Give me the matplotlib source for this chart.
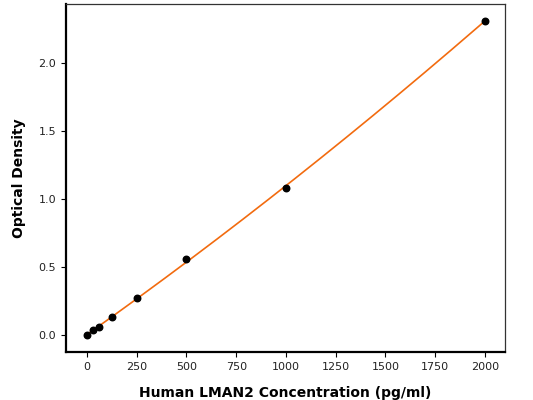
import numpy as np
import matplotlib
matplotlib.use("Agg")
import matplotlib.pyplot as plt

# standard curve data
concentration = [0, 31.25, 62.5, 125, 250, 500, 1000, 2000]
optical_density = [0.0, 0.035, 0.06, 0.132, 0.272, 0.558, 1.08, 2.312]

# quadratic fit for the curve
coef = np.polyfit(concentration, optical_density, 2)
xs = np.linspace(0, 2000, 200)
ys = np.polyval(coef, xs)

fig = plt.figure(figsize=(5.33, 4.0), dpi=100)
ax = fig.add_axes([0.124, 0.12, 0.823, 0.87])

ax.plot(xs, ys, color="#f26b0f", linewidth=1.2, zorder=1)
ax.scatter(concentration, optical_density, color="black", s=22, zorder=2)

ax.set_xlim(-105, 2100)
ax.set_ylim(-0.125, 2.434)
ax.set_xticks([0, 250, 500, 750, 1000, 1250, 1500, 1750, 2000])
ax.set_yticks([0.0, 0.5, 1.0, 1.5, 2.0])
ax.tick_params(labelsize=8, labelcolor="#222222")

for side in ["left", "bottom"]:
    ax.spines[side].set_linewidth(1.6)
    ax.spines[side].set_color("black")
for side in ["top", "right"]:
    ax.spines[side].set_linewidth(0.9)
    ax.spines[side].set_color("#333333")

ax.set_xlabel("Human LMAN2 Concentration (pg/ml)", fontsize=10, fontweight="bold", labelpad=10)
ax.set_ylabel("Optical Density", fontsize=10, fontweight="bold", labelpad=9)

fig.savefig("out.png", dpi=100)
